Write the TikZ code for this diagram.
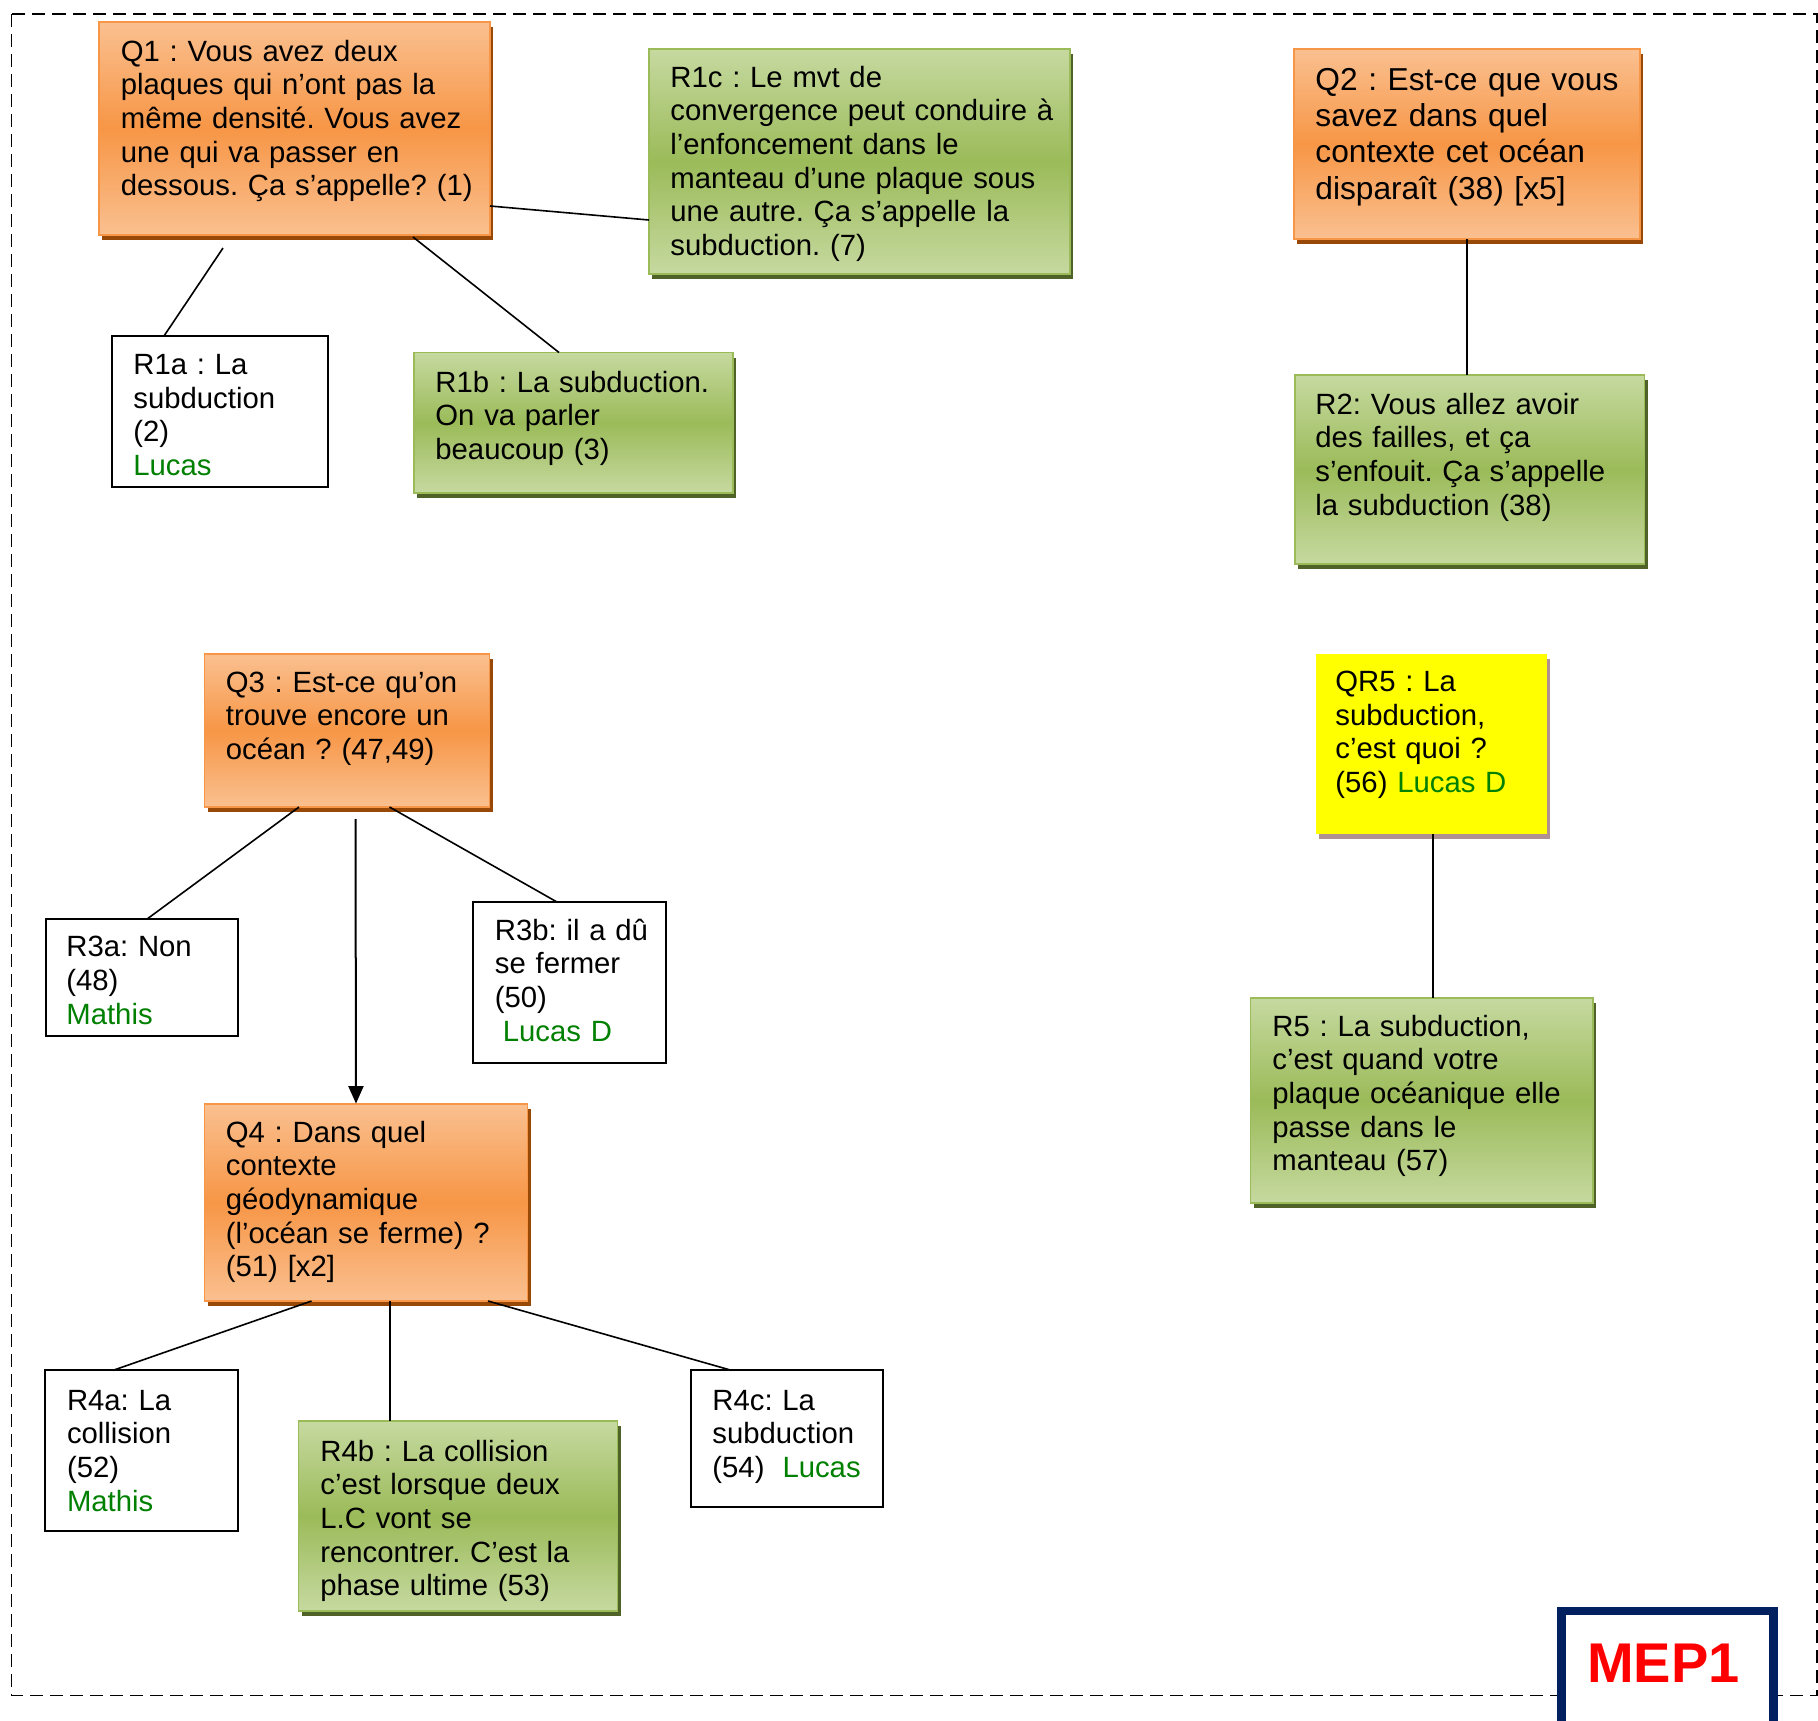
\documentclass[tikz,border=0pt]{standalone}
\usepackage{fontspec}
\setmainfont{Liberation Sans}
\usetikzlibrary{arrows.meta,shadows}
\definecolor{orgD}{HTML}{F79646}
\definecolor{orgL}{HTML}{FAC090}
\definecolor{orgS}{HTML}{984807}
\definecolor{grnD}{HTML}{9BBB59}
\definecolor{grnL}{HTML}{C6D9A0}
\definecolor{grnS}{HTML}{4F6228}
\definecolor{ylwS}{RGB}{176,144,144}
\definecolor{ylwF}{RGB}{255,255,0}
\definecolor{nameG}{RGB}{0,128,0}
\definecolor{mepB}{HTML}{002060}
\definecolor{mepR}{RGB}{255,0,0}
\newcommand{\who}[1]{\textcolor{nameG}{#1}}
\newcommand{\mkbox}[6]{\node[#1, minimum width={(#5-#3)*0.5pt}, minimum height={(#6-#4)*0.5pt}] (#2) at (#3,#4) {};}
\tikzset{
  boxbase/.style={anchor=north west, inner sep=0pt, outer sep=0pt, rectangle},
  qbox/.style={boxbase, draw=orgD, line width=0.9pt, top color=orgL, bottom color=orgL, middle color=orgD,
     drop shadow={shadow xshift=1.5pt, shadow yshift=-2.5pt, fill=orgS, opacity=1}},
  gbox/.style={boxbase, draw=grnD, line width=0.9pt, top color=grnL, bottom color=grnL, middle color=grnD,
     drop shadow={shadow xshift=1.5pt, shadow yshift=-2.5pt, fill=grnS, opacity=1}},
  wbox/.style={boxbase, draw=black, line width=1pt, fill=white},
  ybox/.style={boxbase, fill=ylwF, drop shadow={shadow xshift=1.5pt, shadow yshift=-2.5pt, fill=ylwS, opacity=1}},
  txt/.style={anchor=base west, align=left, text width=215pt, inner sep=0pt, font=\fontsize{14.65pt}{16.85pt}\selectfont\frenchspacing},
  bigtxt/.style={txt, font=\fontsize{15.85pt}{18.2pt}\selectfont\frenchspacing},
  link/.style={draw=black, line width=0.8pt},
  frame/.style={draw=black, line width=0.8pt, dash pattern=on 6.5pt off 3.5pt},
}
\begin{document}
\begin{tikzpicture}[x=0.5pt, y=-0.5pt]
\useasboundingbox (0,0) rectangle (1818,1720);
\clip (0,0) rectangle (1818,1720);
\fill[white] (0,0) rectangle (1818,1720);
\draw[frame] (11.5,14) rectangle (1817,1695.5);

% boxes
\mkbox{qbox}{q1}{99}{22}{490}{235}
\mkbox{gbox}{r1c}{649}{49}{1070}{274}
\mkbox{wbox}{r1a}{112}{336}{328}{487}
\mkbox{gbox}{r1b}{414}{352.5}{733}{493}
\mkbox{qbox}{q2}{1294}{49}{1640}{239}
\mkbox{gbox}{r2}{1295}{375}{1644.5}{564}
\mkbox{qbox}{q3}{204.5}{654}{489.5}{807}
\mkbox{wbox}{r3a}{45.5}{918.7}{237.5}{1035.5}
\mkbox{wbox}{r3b}{473}{902}{665.5}{1062.5}
\mkbox{qbox}{q4}{204.5}{1103.6}{527.5}{1301}
\mkbox{wbox}{r4a}{45.3}{1370.4}{237.7}{1530.7}
\mkbox{gbox}{r4b}{298.5}{1421}{617.5}{1611}
\mkbox{wbox}{r4c}{690.8}{1370.4}{882.5}{1507}
\mkbox{ybox}{qr5}{1315.5}{654}{1547}{834}
\mkbox{gbox}{r5}{1250.5}{998}{1593}{1203}

% texts
\node[txt] (q1t) at ([shift={(21.5,39)}]q1.north west) {Q1 : Vous avez deux\\plaques qui n’ont pas la\\même densité. Vous avez\\une qui va passer en\\dessous. Ça s’appelle? (1)};
\node[txt] (r1ct) at ([shift={(21,38)}]r1c.north west) {R1c : Le mvt de\\convergence peut conduire à\\l’enfoncement dans le\\manteau d’une plaque sous\\une autre. Ça s’appelle la\\subduction. (7)};
\node[txt] (r1at) at ([shift={(21,38.5)}]r1a.north west) {R1a : La\\subduction\\(2)\\\who{Lucas}};
\node[txt] (r1bt) at ([shift={(21,39.5)}]r1b.north west) {R1b : La subduction.\\On va parler\\beaucoup (3)};
\node[bigtxt] (q2t) at ([shift={(21,41)}]q2.north west) {Q2 : Est-ce que vous\\savez dans quel\\contexte cet océan\\disparaît (38) [x5]};
\node[txt] (r2t) at ([shift={(20,39)}]r2.north west) {R2: Vous allez avoir\\des failles, et ça\\s’enfouit. Ça s’appelle\\la subduction (38)};
\node[txt] (q3t) at ([shift={(21,38)}]q3.north west) {Q3 : Est-ce qu’on\\trouve encore un\\océan ? (47,49)};
\node[txt] (r3at) at ([shift={(20.5,38)}]r3a.north west) {R3a: Non\\(48)\\\who{Mathis}};
\node[txt] (r3bt) at ([shift={(21.5,38)}]r3b.north west) {R3b: il a dû\\se fermer\\(50)\\\hspace*{4pt}\who{Lucas D}};
\node[txt] (q4t) at ([shift={(21,38.5)}]q4.north west) {Q4 : Dans quel\\contexte\\géodynamique\\(l’océan se ferme) ?\\(51) [x2]};
\node[txt] (r4at) at ([shift={(21.3,39.6)}]r4a.north west) {R4a: La\\collision\\(52)\\\who{Mathis}};
\node[txt] (r4bt) at ([shift={(21.5,40)}]r4b.north west) {R4b : La collision\\c’est lorsque deux\\L.C vont se\\rencontrer. C’est la\\phase ultime (53)};
\node[txt] (r4ct) at ([shift={(21.2,39.6)}]r4c.north west) {R4c: La\\subduction\\(54)\hspace{9pt}\who{Lucas}};
\node[txt] (qr5t) at ([shift={(19.5,37.5)}]qr5.north west) {QR5 : La\\subduction,\\c’est quoi ?\\(56) \who{Lucas D}};
\node[txt] (r5t) at ([shift={(21.5,38)}]r5.north west) {R5 : La subduction,\\c’est quand votre\\plaque océanique elle\\passe dans le\\manteau (57)};

% connectors
\draw[link] ([shift={(124,13)}]q1.south west) -- ([shift={(52,0)}]r1a.north west);
\draw[link] ([shift={(314,2)}]q1.south west) -- ([shift={(145,0)}]r1b.north west);
\draw[link] ([shift={(0,184)}]q1.north east) -- ([shift={(0,171)}]r1c.north west);
\draw[link] (q2.south) -- (q2.south |- r2.north);
\draw[link] ([shift={(94.5,0)}]q3.south west) -- ([shift={(102,0)}]r3a.north west);
\draw[link] ([shift={(185,0)}]q3.south west) -- ([shift={(84,0)}]r3b.north west);
\draw[link, line width=1pt, -{Triangle[length=8.75pt,width=7.5pt]}] ([shift={(151,12)}]q3.south west) -- ([shift={(151.5,0)}]q4.north west);
\draw[link] ([shift={(107,0)}]q4.south west) -- ([shift={(67.5,0)}]r4a.north west);
\draw[link] ([shift={(185.5,0)}]q4.south west) -- ([shift={(91.5,0)}]r4b.north west);
\draw[link] ([shift={(283.5,0)}]q4.south west) -- ([shift={(41,0)}]r4c.north west);
\draw[link] ([shift={(117.5,0)}]qr5.south west) -- ([shift={(182.5,0)}]r5.north west);

% MEP1 label
\node[boxbase, draw=mepB, line width=4.15pt, fill=white, minimum width={212*0.5pt}, minimum height={150*0.5pt}] (mep) at (1561.5,1611) {};
\node[anchor=base, inner sep=0pt, text=mepR, font=\fontsize{28pt}{33pt}\selectfont\bfseries] (mept) at (1663.5,1682) {MEP1};
\end{tikzpicture}
\end{document}
